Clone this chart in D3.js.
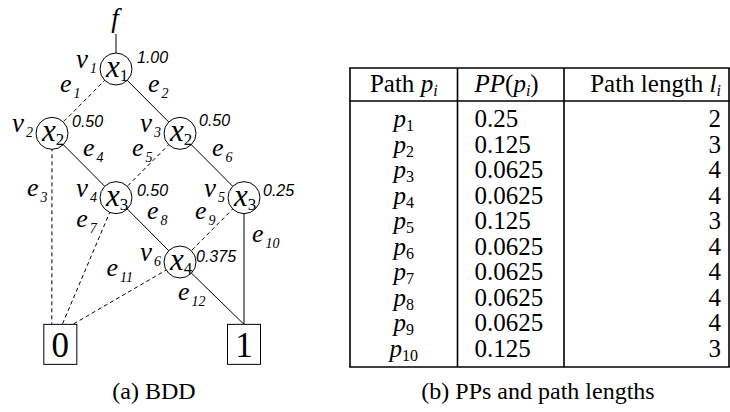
<!DOCTYPE html>
<html><head><meta charset="utf-8">
<script src="https://cdn.jsdelivr.net/npm/d3@7"></script>
<style>body{margin:0;background:#fff} svg{display:block}</style>
</head><body><svg id="c" width="730" height="412"></svg>
<script>
// ---------- BDD data ----------
const nodeIds   = ["v1","v2","v3","v4","v5","v6"];
const nodeVar   = ["1","2","2","3","3","4"];
const nodeLevel = [0,1,1,2,2,3];
const nodeCol   = [1,0,2,1,3,2];
const nodeProb  = ["1.00","0.50","0.50","0.50","0.25","0.375"];
const termIds   = ["T0","T1"];
const termLabel = ["0","1"];
const termCol   = [0.13,3];
const edgeIds   = ["1","2","3","4","5","6","7","8","9","10","11","12"];
const edgeFrom  = ["v1","v1","v2","v2","v3","v3","v4","v4","v5","v5","v6","v6"];
const edgeTo    = ["v2","v3","T0","v4","v4","v5","T0","v6","v6","T1","T0","T1"];
const edgeKind  = ["low","high","low","high","low","high","low","high","low","high","low","high"];
// ---------- table data ----------
const pathIdx    = ["1","2","3","4","5","6","7","8","9","10"];
const pathProb   = ["0.25","0.125","0.0625","0.0625","0.125","0.0625","0.0625","0.0625","0.0625","0.125"];
const pathLength = ["2","3","4","4","3","4","4","4","4","3"];

const svg = d3.select("#c");
const serif = "'Liberation Serif','Times New Roman',serif";
const sans = "'Liberation Sans',Arial,sans-serif";

// ---------- BDD layout ----------
const xS = d3.scaleLinear().domain([0,3]).range([52,244]);
const yS = d3.scaleLinear().domain([0,3]).range([69,262]);
const termLevel = 4.28;
const R = 16, boxW = 33, boxH = 40;
const pos = {};
nodeIds.forEach((id,i)=>{pos[id]={x:xS(nodeCol[i]),y:yS(nodeLevel[i])};});
termIds.forEach((id,i)=>{pos[id]={x:xS(termCol[i]),y:yS(termLevel)};});

const edgeLabelOff = {"1":[-24,-9],"2":[0,-9],"3":[-25,-33],"4":[-1,-10],"5":[-16,-10],"6":[0,-10],
  "7":[-13,-34],"8":[-1,-11],"9":[-17,-11],"10":[8,-19],"11":[-20,-17],"12":[-34,7]};
const probOff = {"v1":[21,-6],"v2":[20,-6],"v3":[19,-7],"v4":[21,-2],"v5":[19,-2],"v6":[16,0]};

const portCount = {};
const edges = edgeIds.map((id,i)=>{
  const s = pos[edgeFrom[i]], t = pos[edgeTo[i]];
  let tx = t.x, ty = t.y;
  if (edgeTo[i].startsWith("T")) {
    ty = t.y - boxH/2;
    if (edgeTo[i]==="T0") {
      const k = portCount.T0 || 0;
      portCount.T0 = k+1;
      tx = t.x - boxW/2 + 8 + 10.5*k;
    }
  }
  return {id, sx:s.x, sy:s.y, tx, ty, kind:edgeKind[i]};
});

svg.append("line").attr("x1",xS(1)).attr("x2",xS(1)).attr("y1",34).attr("y2",yS(0)-R)
  .attr("stroke","#000").attr("stroke-width",1);
svg.append("text").attr("x",xS(1)-1).attr("y",27).attr("text-anchor","middle")
  .attr("font-family",serif).attr("font-style","italic").attr("font-size",27).text("f");

svg.append("g").selectAll("line").data(edges).join("line")
  .attr("x1",d=>d.sx).attr("y1",d=>d.sy).attr("x2",d=>d.tx).attr("y2",d=>d.ty)
  .attr("stroke","#000").attr("stroke-width",1)
  .attr("stroke-dasharray",d=>d.kind==="low"?"4,3":null);

const el = svg.append("g").selectAll("text").data(edges).join("text")
  .attr("x",d=>(d.sx+d.tx)/2+edgeLabelOff[d.id][0])
  .attr("y",d=>(d.sy+d.ty)/2+edgeLabelOff[d.id][1])
  .attr("font-family",serif).attr("font-style","italic").attr("font-size",26);
el.append("tspan").text("e");
el.append("tspan").attr("font-size",14).attr("dx",2).attr("dy",6).text(d=>d.id);

const ng = svg.append("g").selectAll("g").data(nodeIds).join("g")
  .attr("transform",d=>`translate(${pos[d].x},${pos[d].y})`);
ng.append("circle").attr("r",R).attr("fill","#fff").attr("stroke","#000").attr("stroke-width",1);
const xl = ng.append("text").attr("x",1).attr("y",8).attr("text-anchor","middle")
  .attr("font-family",serif).attr("font-size",31);
xl.append("tspan").attr("font-style","italic").text("x");
xl.append("tspan").attr("font-size",17).attr("dy",4).text((d,i)=>nodeVar[i]);
const vl = ng.append("text").attr("x",-40).attr("y",-1)
  .attr("font-family",serif).attr("font-style","italic").attr("font-size",27);
vl.append("tspan").text("v");
vl.append("tspan").attr("font-size",14).attr("dx",2).attr("dy",5).text(d=>d.slice(1));
ng.append("text").attr("x",d=>probOff[d][0]).attr("y",d=>probOff[d][1])
  .attr("font-family",sans).attr("font-style","italic").attr("font-size",16)
  .text((d,i)=>nodeProb[i]);

const tg = svg.append("g").selectAll("g").data(termIds).join("g")
  .attr("transform",d=>`translate(${pos[d].x},${pos[d].y})`);
tg.append("rect").attr("x",-boxW/2).attr("y",-boxH/2).attr("width",boxW).attr("height",boxH)
  .attr("fill","#fff").attr("stroke","#000").attr("stroke-width",1);
tg.append("text").attr("y",13).attr("text-anchor","middle").attr("font-family",serif)
  .attr("font-size",35).text((d,i)=>termLabel[i]);

svg.append("text").attr("x",154).attr("y",399).attr("text-anchor","middle")
  .attr("font-family",serif).attr("font-size",24).text("(a) BDD");

// ---------- table ----------
const colEdges = [350,457.5,564,729];
const tTop = 68, tHead = 101, tBot = 367;
const rowY = d3.scaleLinear().domain([0,pathIdx.length-1]).range([127,357]);
const tfs = 25, sfs = 16;
const tb = svg.append("g").attr("font-family",serif).attr("font-size",tfs);
const lw = 1.6;
[tTop,tHead,tBot].forEach(y=>tb.append("line").attr("x1",colEdges[0]-lw/2).attr("x2",colEdges[3]+lw/2)
  .attr("y1",y).attr("y2",y).attr("stroke","#000").attr("stroke-width",lw));
colEdges.forEach(x=>tb.append("line").attr("x1",x).attr("x2",x).attr("y1",tTop).attr("y2",tBot)
  .attr("stroke","#000").attr("stroke-width",lw));

const c1 = (colEdges[0]+colEdges[1])/2, c2 = colEdges[1]+17, c3 = colEdges[3]-8;
const hy = 92;
let h = tb.append("text").attr("x",c1).attr("y",hy).attr("text-anchor","middle");
h.append("tspan").text("Path ");
h.append("tspan").attr("font-style","italic").text("p");
h.append("tspan").attr("font-style","italic").attr("font-size",sfs).attr("dy",4).text("i");
h = tb.append("text").attr("x",c2).attr("y",hy);
h.append("tspan").attr("font-style","italic").text("PP");
h.append("tspan").text("(");
h.append("tspan").attr("font-style","italic").text("p");
h.append("tspan").attr("font-style","italic").attr("font-size",sfs).attr("dy",4).text("i");
h.append("tspan").attr("dy",-4).text(")");
h = tb.append("text").attr("x",c3).attr("y",hy).attr("text-anchor","end");
h.append("tspan").text("Path length ");
h.append("tspan").attr("font-style","italic").text("l");
h.append("tspan").attr("font-style","italic").attr("font-size",sfs).attr("dy",4).text("i");

const r1 = tb.append("g").selectAll("text").data(pathIdx).join("text")
  .attr("x",c1).attr("y",(d,i)=>rowY(i)).attr("text-anchor","middle");
r1.append("tspan").attr("font-style","italic").text("p");
r1.append("tspan").attr("font-size",sfs).attr("dy",4).text(d=>d);
tb.append("g").selectAll("text").data(pathProb).join("text")
  .attr("x",c2).attr("y",(d,i)=>rowY(i)).text(d=>d);
tb.append("g").selectAll("text").data(pathLength).join("text")
  .attr("x",c3).attr("y",(d,i)=>rowY(i)).attr("text-anchor","end").text(d=>d);

svg.append("text").attr("x",538).attr("y",399).attr("text-anchor","middle")
  .attr("font-family",serif).attr("font-size",24).text("(b) PPs and path lengths");
</script></body></html>
